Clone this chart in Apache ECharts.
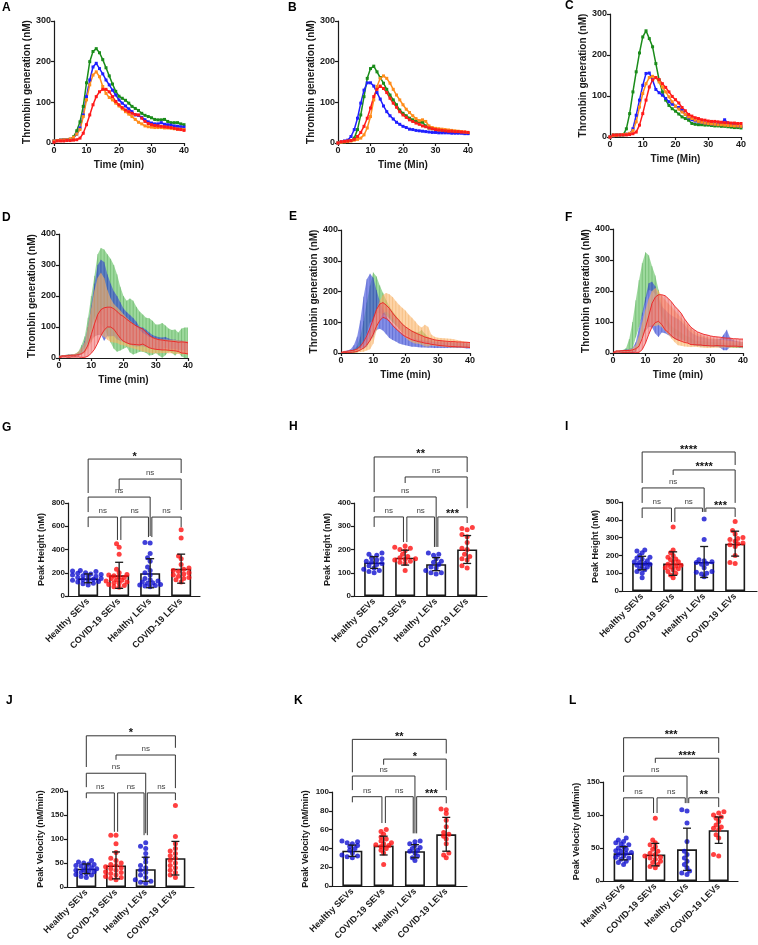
<!DOCTYPE html>
<html><head><meta charset="utf-8">
<script src="https://cdn.jsdelivr.net/npm/echarts@6/dist/echarts.min.js"></script>
<style>html,body{margin:0;padding:0;background:#fff}#c{width:758px;height:945px}</style>
</head><body><div id="c"></div><script>
// ---------------- DATA ----------------
const time = [0,1,2,3,4,5,6,7,8,9,10,11,12,13,14,15,16,17,18,19,20,21,22,23,24,25,26,27,28,29,30,31,32,33,34,35,36,37,38,39,40];

const A_green  = [5,6,7,8,8,9,15,30,52,90,148,200,225,232,222,205,185,165,145,127,115,110,105,98,90,85,80,73,68,65,62,58,57,57,58,53,50,50,50,47,45];
const A_blue   = [5,6,7,8,8,9,12,22,37,69,114,155,187,196,183,170,155,143,130,118,106,98,91,84,77,69,68,63,57,52,49,47,47,50,46,45,44,42,41,40,39];
const A_orange = [5,6,7,8,8,10,14,22,33,65,106,143,167,175,163,139,122,112,106,98,91,84,77,71,65,58,51,47,42,40,39,38,38,38,37,37,36,35,34,34,33];
const A_red    = [2,5,5,5,6,6,7,8,12,24,45,69,94,114,126,132,132,126,114,102,94,87,81,77,73,70,69,61,53,48,45,43,42,41,40,39,38,36,34,33,31];

const B_green  = [0,2,3,4,6,12,33,69,114,159,183,189,175,161,147,132,118,106,94,81,73,67,61,57,53,51,51,42,37,35,33,32,31,30,29,29,28,27,26,25,24];
const B_blue   = [0,3,5,7,16,33,61,98,130,148,148,140,124,108,91,77,67,59,51,46,41,38,34,33,31,30,29,28,27,26,26,25,25,25,25,24,24,24,24,23,23];
const B_orange = [0,2,3,4,5,7,9,12,20,37,65,106,139,159,165,159,147,132,118,106,94,83,75,67,60,55,57,53,42,38,36,35,34,33,32,31,30,29,28,27,26];
const B_red    = [0,3,4,5,6,9,16,26,41,61,86,114,132,140,134,124,110,98,88,77,69,63,57,53,49,46,42,40,37,35,33,32,31,30,29,29,28,28,27,27,26];

const C_green  = [0,5,5,5,5,20,57,110,159,205,244,259,240,220,179,139,110,90,77,69,63,56,49,45,41,33,31,30,30,29,29,28,27,27,26,26,25,24,23,23,22];
const C_blue   = [0,3,4,5,6,7,8,20,53,90,126,155,156,139,116,108,102,94,86,80,75,72,65,55,47,42,39,37,36,34,33,32,32,31,34,42,34,31,29,27,26];
const C_orange = [0,3,4,5,6,7,9,16,37,73,106,130,145,148,145,134,122,110,98,86,75,68,61,55,49,45,41,38,36,34,33,32,31,30,30,29,28,28,27,27,26];
const C_red    = [0,5,5,5,5,5,6,8,12,29,57,90,122,139,145,140,130,121,110,99,91,83,72,64,55,51,47,45,42,41,39,38,38,37,36,35,35,34,34,33,33];

// SD bands (D uses A means, E uses B means, F uses C means)
const D_green_sd  = [2,2,3,3,3,4,5,12,18,40,52,65,110,123,128,130,135,135,125,103,85,75,87,87,75,65,60,57,60,55,46,50,56,48,37,37,42,32,45,51,53];
const D_blue_sd   = [2,2,3,3,3,4,6,10,18,31,56,85,113,121,127,100,85,72,70,62,54,50,48,45,40,31,30,28,25,22,21,20,19,18,17,15,15,15,15,15,15];
const D_orange_sd = [2,2,3,3,3,4,6,10,18,35,55,75,92,100,95,80,70,62,58,55,50,46,43,40,37,33,30,28,26,25,24,23,22,22,22,22,22,22,22,22,22];
const D_red_sd    = [2,2,2,3,3,3,4,6,10,18,30,41,46,42,36,32,32,33,36,38,40,38,36,33,30,28,24,22,20,18,17,16,16,15,15,15,15,15,18,18,18];

const E_green_sd  = [2,2,3,4,6,10,20,35,50,60,79,60,45,35,25,20,18,16,15,14,13,12,12,12,14,24,12,10,8,8,7,7,7,6,6,6,6,6,6,6,6];
const E_blue_sd   = [2,2,3,5,10,20,45,85,110,110,97,65,45,35,30,28,25,22,20,18,16,15,14,13,12,12,11,11,10,10,10,9,9,9,9,8,8,8,8,8,8];
const E_orange_sd = [2,2,3,3,4,5,6,8,12,25,35,34,31,30,30,32,35,37,39,41,44,42,40,36,30,28,35,32,18,15,14,14,14,14,14,14,12,11,10,9,9];
const E_red_sd    = [2,2,2,3,3,4,6,10,15,20,25,27,27,24,22,21,20,19,18,17,16,15,14,13,12,11,10,9,9,8,8,8,8,8,8,8,8,8,8,8,8];

const F_green_sd  = [2,2,3,5,10,25,43,60,76,85,81,56,40,30,25,20,15,12,10,10,10,9,9,8,8,8,8,8,8,7,7,7,7,7,7,7,7,7,7,7,7];
const F_blue_sd   = [2,2,3,4,5,6,8,15,28,40,54,70,74,76,64,42,38,36,35,35,35,30,26,22,20,18,16,15,14,13,12,12,12,14,25,33,15,10,10,9,9];
const F_orange_sd = [2,2,3,3,4,5,6,10,18,26,34,45,55,62,55,51,50,50,52,51,50,45,40,35,30,25,22,20,19,18,17,15,14,13,12,11,11,10,10,9,9];
const F_red_sd    = [2,2,2,3,3,3,4,6,10,18,25,30,38,41,43,48,55,55,55,52,49,45,38,32,28,24,21,19,18,17,16,15,14,14,13,13,13,12,12,12,12];

const groups = ['Healthy SEVs','COVID-19 SEVs','Healthy LEVs','COVID-19 LEVs'];

// Peak height / velocity panels: bar means, SDs, individual points, comparison brackets
const G_mean = [152,178,196,235];  const G_sd = [38,112,125,125];
const G_p1 = [220,215,210,200,195,190,185,180,175,170,165,160,150,145,140,135,130,125,120,110,105,95];
const G_p2 = [450,420,360,230,200,185,180,175,165,160,150,140,135,130,120,115,110,100,90,80,75];
const G_p3 = [460,455,365,330,300,250,220,200,180,150,140,130,120,115,110,100,95,90,85,80];
const G_p4 = [570,500,345,320,270,240,230,220,210,200,190,180,170,160,150,140,120];
const G_brk = [[0,3,1178,886,1058,'*'],[1,3,1006,912,740,'ns'],[0,2,851,722,516,'ns'],[0,1,679,593,482,'ns'],[1,2,679,482,507,'ns'],[2,3,679,507,593,'ns']];

const H_mean = [144,165,137,200];  const H_sd = [25,32,28,60];
const H_p1 = [185,180,175,165,160,155,150,145,140,135,130,120,115,110,105,100];
const H_p2 = [215,210,205,200,195,180,170,165,160,158,155,150,145,140,110];
const H_p3 = [185,180,175,160,150,145,135,125,120,110,100,100,95];
const H_p4 = [295,290,285,265,255,230,205,200,180,170,160,155,130,120];
const H_brk = [[0,3,598,447,533,'**'],[1,3,512,486,378,'ns'],[0,2,426,361,211,'ns'],[0,1,340,297,232,'ns'],[1,2,340,232,211,'ns'],[2,3,340,211,314,'***']];

const I_mean = [157,154,163,266];  const I_sd = [38,66,87,70];
const I_p1 = [230,225,215,200,190,185,180,170,165,160,155,150,145,140,135,125,120,110,100,75];
const I_p2 = [360,230,215,200,190,180,175,165,160,150,145,140,135,130,125,120,110,100,90,75];
const I_p3 = [405,290,175,170,165,160,155,150,130,110,105,100,95,80];
const I_p4 = [390,340,320,300,295,290,280,270,265,260,250,200,160,155];
const I_brk = [[0,3,781,607,708,'****'],[1,3,680,652,495,'****'],[0,2,579,495,444,'ns'],[0,1,466,410,388,'ns'],[1,2,466,388,444,'ns'],[2,3,466,444,416,'***']];

const J_mean = [38,45,37,60];  const J_sd = [10,28,25,35];
const J_p1 = [55,52,50,48,47,45,44,42,40,38,36,35,34,32,30,28,26,25,22,20];
const J_p2 = [108,108,90,72,60,55,50,47,45,42,40,38,35,32,30,28,25,22,20,18,15];
const J_p3 = [92,85,80,70,60,52,45,40,35,30,25,20,15,12,10,8];
const J_p4 = [170,105,90,80,75,70,65,60,55,50,45,40,35,30,25,20];
const J_brk = [[0,3,315,250,290,'*'],[1,3,275,265,206,'ns'],[0,2,237,208,112,'ns'],[0,1,196,185,115,'ns'],[1,2,196,115,108,'ns'],[2,3,196,108,181,'ns']];

const K_mean = [37.5,43,37,55];  const K_sd = [6,10,7,18];
const K_p1 = [48,47,46,45,43,42,40,38,35,33,32,31,30];
const K_p2 = [60,58,55,52,50,48,46,45,44,43,42,40,38,35,23];
const K_p3 = [48,47,45,43,41,40,38,37,35,32,30,27];
const K_p4 = [82,81,77,70,63,57,55,53,50,45,35,33,30];
const K_brk = [[0,3,156,121,141,'**'],[1,3,135,129,102,'*'],[0,2,117,102,56,'ns'],[0,1,95,89,67,'ns'],[1,2,95,67,56,'ns'],[2,3,95,56,88,'***']];

const L_mean = [42,40,48,77];  const L_sd = [10,17,32,20];
const L_p1 = [65,62,60,58,56,55,52,50,48,46,45,43,42,40,38,36,35,33,30,28,25];
const L_p2 = [95,62,58,55,52,48,45,42,40,38,36,35,33,30,28,25,22,20];
const L_p3 = [108,106,88,60,45,40,35,30,25,20,15,12,10];
const L_p4 = [105,103,100,97,95,90,85,82,80,78,70,65,40,38];
const L_brk = [[0,3,217,165,194,'***'],[1,3,186,179,133,'****'],[0,2,159,135,118,'ns'],[0,1,126,73,103,'ns'],[1,2,126,103,118,'ns'],[2,3,126,118,112,'**']];

// ---------------- RENDER ----------------
const FF = "'Liberation Sans', Arial, Helvetica, sans-serif";
const INK = '#1a1a1a';
const LC = {green:'#1a8c1a', blue:'#1f1fff', orange:'#ff8c1a', red:'#ff1a1a'};
const grids=[], xAxes=[], yAxes=[], series=[], graphics=[];

function baseAxis(gi){
  return {gridIndex:gi, type:'value', splitLine:{show:false},
    axisLine:{show:true,onZero:false,lineStyle:{color:INK,width:1.2}},
    axisTick:{show:true,length:3,lineStyle:{color:INK,width:1.2}},
    axisLabel:{fontFamily:FF,fontSize:9,fontWeight:'bold',color:INK,margin:3},
    nameLocation:'middle',
    nameTextStyle:{fontFamily:FF,fontSize:10,fontWeight:'bold',color:INK}};
}
function addGrid(box){ grids.push(Object.assign({outerBoundsMode:'none',containLabel:false}, box)); return grids.length-1; }

function linePanel(box, ymax, yint, xname, yname, sets){
  const gi = addGrid(box);
  const xa = baseAxis(gi); Object.assign(xa,{min:0,max:40,interval:10,name:xname,nameGap:17});
  const ya = baseAxis(gi); Object.assign(ya,{min:0,max:ymax,interval:yint,name:yname,nameGap:18});
  xAxes.push(xa); yAxes.push(ya);
  const xi=xAxes.length-1, yi=yAxes.length-1;
  sets.forEach(([vals,col])=>{
    series.push({type:'line', xAxisIndex:xi, yAxisIndex:yi, data: time.map((tt,i)=>[tt,vals[i]]),
      symbol:'rect', symbolSize:3, showSymbol:true, lineStyle:{color:col,width:1.5}, itemStyle:{color:col}});
  });
}

function bandPanel(box, xname, yname, sets){
  const gi = addGrid(box);
  const xa = baseAxis(gi); Object.assign(xa,{min:0,max:40,interval:10,name:xname,nameGap:17});
  const ya = baseAxis(gi); Object.assign(ya,{min:0,max:400,interval:100,name:yname,nameGap:18});
  xAxes.push(xa); yAxes.push(ya);
  const xi=xAxes.length-1, yi=yAxes.length-1;
  sets.forEach(([m,s,fill,hatch,edge],k)=>{
    const lo = m.map((v,i)=>Math.max(0, v - s[i]));
    const hi = m.map((v,i)=>v + s[i]);
    series.push({type:'custom', xAxisIndex:xi, yAxisIndex:yi, z:2+k, clip:true, data:[[0,0]],
      renderItem:(p,api)=>{
        const up = time.map((tt,i)=>api.coord([tt,hi[i]]));
        const dn = time.map((tt,i)=>api.coord([tt,lo[i]]));
        const ch = [{type:'polygon',shape:{points:up.concat(dn.slice().reverse())},style:{fill:fill,opacity:0.6}}];
        if (edge){
          ch.push({type:'polyline',shape:{points:up},style:{stroke:edge,lineWidth:0.9,fill:null}});
          ch.push({type:'polyline',shape:{points:dn},style:{stroke:edge,lineWidth:0.9,fill:null}});
        }
        return {type:'group',children:ch};
      }});
    series.push({type:'custom', xAxisIndex:xi, yAxisIndex:yi, z:2+k, clip:true,
      data: time.map((tt,i)=>[tt,lo[i],hi[i]]),
      renderItem:(p,api)=>{
        const a=api.coord([api.value(0),api.value(1)]), b=api.coord([api.value(0),api.value(2)]);
        return {type:'line', shape:{x1:a[0],y1:a[1],x2:b[0],y2:b[1]}, style:{stroke:hatch,lineWidth:0.7,opacity:0.45}};
      }});
  });
}

function swarm(vals, idx, upp, d, catPx){
  const placed=[], out=[];
  const sorted = vals.slice().sort((a,b)=>a-b);
  for (const v of sorted){
    const y = v/upp;
    for (let k=0;k<60;k++){
      const off = (k%2 ? -1 : 1)*Math.ceil(k/2)*d*0.5;
      if (placed.every(p=>Math.hypot(p[0]-off,p[1]-y) >= d*0.7)){ placed.push([off,y]); out.push([idx+off/catPx, v]); break; }
    }
  }
  return out;
}

function barPanel(box, catPx, ymax, yint, yname, means, sds, pts, brks){
  const gi = addGrid(box);
  const xmin = -0.65, xmax = xmin + box.width/catPx;
  const xa = baseAxis(gi);
  Object.assign(xa,{min:xmin,max:xmax,axisTick:{show:false}});
  xa.axisLabel = {fontFamily:FF,fontSize:9,fontWeight:'bold',color:INK,margin:4,rotate:45,
    customValues:[0,1,2,3], formatter:(v)=>groups[Math.round(v)]};
  const ya = baseAxis(gi); Object.assign(ya,{min:0,max:ymax,interval:yint,name:yname,nameGap:22});
  ya.axisLabel = Object.assign({}, ya.axisLabel, {fontSize:8});
  ya.nameTextStyle = Object.assign({}, ya.nameTextStyle, {fontSize:9});
  xAxes.push(xa); yAxes.push(ya);
  const xi=xAxes.length-1, yi=yAxes.length-1;
  series.push({type:'bar', xAxisIndex:xi, yAxisIndex:yi, barWidth:20, z:2,
    data: means.map((m,i)=>[i,m]), itemStyle:{color:'#ffffff',borderColor:INK,borderWidth:1.6}});
  const upp = ymax/box.height;
  pts.forEach((arr,i)=>{
    series.push({type:'scatter', xAxisIndex:xi, yAxisIndex:yi, z:3, symbolSize:5,
      itemStyle:{color: i%2===0 ? '#1010d0' : '#ff1010'},
      data: swarm(arr, i, upp, 5.2, catPx)});
  });
  series.push({type:'custom', xAxisIndex:xi, yAxisIndex:yi, z:4, clip:false,
    data: means.map((m,i)=>[i, m-sds[i], m+sds[i]]),
    renderItem:(p,api)=>{
      const a=api.coord([api.value(0),api.value(1)]), b=api.coord([api.value(0),api.value(2)]);
      const st={stroke:INK,lineWidth:1.3};
      return {type:'group',children:[
        {type:'line',shape:{x1:a[0],y1:a[1],x2:b[0],y2:b[1]},style:st},
        {type:'line',shape:{x1:a[0]-4,y1:a[1],x2:a[0]+4,y2:a[1]},style:st},
        {type:'line',shape:{x1:b[0]-4,y1:b[1],x2:b[0]+4,y2:b[1]},style:st}]};
    }});
  series.push({type:'custom', xAxisIndex:xi, yAxisIndex:yi, z:5, clip:false,
    data: brks.map(b=>[b[0],b[1],b[2],b[3],b[4]]),
    renderItem:(p,api)=>{
      const b = brks[p.dataIndex];
      const adj = (b[1]-b[0]===1);
      const x1v = b[0] + (adj && b[0]>0 ? 0.055 : 0);
      const x2v = b[1] - (adj && b[1]<3 ? 0.055 : 0);
      const pL0=api.coord([x1v,b[3]]), pL1=api.coord([x1v,b[2]]), pR1=api.coord([x2v,b[2]]), pR0=api.coord([x2v,b[4]]);
      const isNs = b[5]==='ns';
      const cx=(pL1[0]+pR1[0])/2;
      return {type:'group',children:[
        {type:'polyline',shape:{points:[pL0,pL1,pR1,pR0]},style:{stroke:'#333',lineWidth:1,fill:null}},
        {type:'text',style:{text:b[5],x:cx,y:pL1[1]+(isNs?-2:3),align:'center',textAlign:'center',
          verticalAlign:'bottom',textVerticalAlign:'bottom',
          fontFamily:FF,fontSize:isNs?8:11,fontWeight:isNs?'normal':'bold',fill:isNs?'#444':'#111'}}]};
    }});
}

function letter(ch,x,y){
  graphics.push({type:'text',left:x,top:y,style:{text:ch,font:'bold 12px '+FF,fill:'#000'}});
}

const YN = 'Thrombin generation (nM)';
linePanel({left:54,top:21,width:130,height:122},300,100,'Time (min)',YN,
  [[A_green,LC.green],[A_blue,LC.blue],[A_orange,LC.orange],[A_red,LC.red]]);
linePanel({left:338,top:21,width:130,height:122},300,100,'Time (Min)',YN,
  [[B_green,LC.green],[B_blue,LC.blue],[B_orange,LC.orange],[B_red,LC.red]]);
linePanel({left:610,top:14,width:131,height:123},300,100,'Time (Min)',YN,
  [[C_green,LC.green],[C_blue,LC.blue],[C_orange,LC.orange],[C_red,LC.red]]);

const BF = {green:'#5cbf5c', blue:'#3346d8', orange:'#fbb56a', red:'#f27a7a'};
const BH = {green:'#2e8b2e', blue:'#2030b0', orange:'#e89a40', red:'#e03030'};
bandPanel({left:59,top:234,width:129,height:124},'Time (min)',YN,
  [[A_green,D_green_sd,BF.green,BH.green,null],[A_blue,D_blue_sd,BF.blue,BH.blue,null],
   [A_orange,D_orange_sd,BF.orange,BH.orange,null],[A_red,D_red_sd,BF.red,BH.red,'#ee2020']]);
bandPanel({left:341,top:230,width:129,height:123},'Time (min)',YN,
  [[B_green,E_green_sd,BF.green,BH.green,null],[B_blue,E_blue_sd,BF.blue,BH.blue,null],
   [B_orange,E_orange_sd,BF.orange,BH.orange,null],[B_red,E_red_sd,BF.red,BH.red,'#ee2020']]);
bandPanel({left:613,top:229,width:130,height:124},'Time (min)',YN,
  [[C_green,F_green_sd,BF.green,BH.green,null],[C_blue,F_blue_sd,BF.blue,BH.blue,null],
   [C_orange,F_orange_sd,BF.orange,BH.orange,null],[C_red,F_red_sd,BF.red,BH.red,'#ee2020']]);

barPanel({left:68,top:503,width:132,height:93},31,800,200,'Peak Height (nM)',G_mean,G_sd,[G_p1,G_p2,G_p3,G_p4],G_brk);
barPanel({left:354,top:503,width:133,height:93},31,400,100,'Peak Height (nM)',H_mean,H_sd,[H_p1,H_p2,H_p3,H_p4],H_brk);
barPanel({left:622,top:502,width:135,height:89},31,500,100,'Peak Height (nM)',I_mean,I_sd,[I_p1,I_p2,I_p3,I_p4],I_brk);
barPanel({left:67,top:791,width:127,height:96},29.7,200,50,'Peak Velocity (nM/min)',J_mean,J_sd,[J_p1,J_p2,J_p3,J_p4],J_brk);
barPanel({left:332,top:792,width:135,height:94},31.3,100,20,'Peak Velocity (nM/min)',K_mean,K_sd,[K_p1,K_p2,K_p3,K_p4],K_brk);
barPanel({left:603,top:782,width:135,height:99},31.7,150,50,'Peak Velocity (nM/min)',L_mean,L_sd,[L_p1,L_p2,L_p3,L_p4],L_brk);

letter('A',2,2); letter('B',288,2); letter('C',565,0);
letter('D',2,212); letter('E',289,211); letter('F',565,212);
letter('G',2,422); letter('H',289,421); letter('I',565,421);
letter('J',6,695); letter('K',294,695); letter('L',569,695);

const chart = echarts.init(document.getElementById('c'));
chart.setOption({animation:false, backgroundColor:'#fff', grid:grids, xAxis:xAxes, yAxis:yAxes, series, graphic:graphics});
</script></body></html>
